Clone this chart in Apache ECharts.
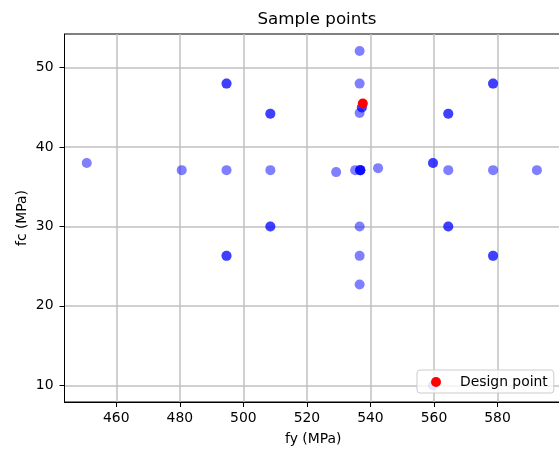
<!DOCTYPE html>
<html>
<head>
<meta charset="utf-8">
<script src="https://cdn.jsdelivr.net/npm/echarts@6/dist/echarts.min.js"></script>
<style>html,body{margin:0;padding:0;background:#fff;}#c{width:559px;height:453px;}</style>
</head>
<body>
<div id="c"></div>
<script>
// Sample points (duplicates listed repeatedly; they overlap in the picture)
const sampleFy = [450.7, 480.6, 494.7, 494.7, 494.7, 494.7, 494.7, 508.5, 508.5, 508.5, 508.5, 508.5,
  529.2, 535.2, 536.8, 536.8, 536.8, 536.8, 536.6, 536.6, 536.6, 537.3, 537.3, 536.6, 536.6, 536.6,
  542.4, 559.7, 559.7, 559.7, 564.5, 564.5, 564.5, 564.5, 564.5, 578.6, 578.6, 578.6, 578.6, 578.6, 592.4];
const sampleFc = [38.0, 37.1, 37.1, 48.0, 48.0, 26.3, 26.3, 37.1, 44.2, 44.2, 30.0, 30.0,
  36.85, 37.1, 37.1, 37.1, 37.1, 37.1, 52.1, 48.0, 44.3, 45.0, 45.0, 30.0, 26.3, 22.7,
  37.35, 38.0, 38.0, 10.0, 37.1, 44.2, 44.2, 30.0, 30.0, 37.1, 48.0, 48.0, 26.3, 26.3, 37.1];
const designFy = [537.6];
const designFc = [45.5];
const xTicks = [460, 480, 500, 520, 540, 560, 580];
const yTicks = [10, 20, 30, 40, 50];

const font = 'DejaVu Sans';
const fs = 13.9;
const chart = echarts.init(document.getElementById('c'), null, {renderer: 'canvas'});
const samples = sampleFy.map((v, i) => [v, sampleFc[i]]);
const design = designFy.map((v, i) => [v, designFc[i]]);

chart.setOption({
  animation: false,
  backgroundColor: '#ffffff',
  title: {
    text: 'Sample points', left: 312, top: 6, textAlign: 'center',
    textStyle: {fontFamily: font, fontSize: 16.7, fontWeight: 'normal', color: '#000'}
  },
  grid: {left: 64.5, right: -3, top: 34, bottom: 51, show: true, borderColor: '#000', borderWidth: 1,
    backgroundColor: 'transparent', outerBoundsMode: 'none', containLabel: false},
  legend: {
    data: ['Design point'], left: 417, top: 370,
    orient: 'vertical',
    padding: [5, 6, 4, 14],
    itemWidth: 10, itemHeight: 10,
    backgroundColor: 'rgba(255,255,255,0.8)',
    borderColor: '#cccccc', borderWidth: 1, borderRadius: 3,
    textStyle: {fontFamily: font, fontSize: fs, color: '#000', padding: [0, 0, 0, 14]}
  },
  xAxis: {
    type: 'value', min: 443.7, max: 600.3,
    name: 'fy (MPa)', nameLocation: 'middle', nameGap: 30, nameMoveOverlap: false,
    nameTextStyle: {fontFamily: font, fontSize: fs, color: '#000'},
    axisLine: {show: true, lineStyle: {color: '#000', width: 1}},
    axisTick: {show: true, length: 5, lineStyle: {color: '#000'}, customValues: xTicks},
    axisLabel: {fontFamily: font, fontSize: fs, color: '#000', margin: 9, customValues: xTicks},
    splitLine: {show: true, lineStyle: {color: '#c0c0c0', width: 1.5}}
  },
  yAxis: {
    type: 'value', min: 7.89, max: 54.25,
    name: 'fc (MPa)', nameLocation: 'middle', nameGap: 35, nameMoveOverlap: false,
    nameTextStyle: {fontFamily: font, fontSize: fs, color: '#000'},
    axisLine: {show: true, lineStyle: {color: '#000', width: 1}},
    axisTick: {show: true, length: 5, lineStyle: {color: '#000'}, customValues: yTicks},
    axisLabel: {fontFamily: font, fontSize: fs, color: '#000', margin: 11, customValues: yTicks},
    splitLine: {show: true, lineStyle: {color: '#c0c0c0', width: 1.5}}
  },
  series: [
    {
      name: 'Samples', type: 'scatter', data: samples, symbolSize: 10,
      itemStyle: {color: '#0000ff', opacity: 0.5}
    },
    {
      name: 'Design point', type: 'scatter', data: design, symbolSize: 10,
      itemStyle: {color: '#ff0000', opacity: 1}
    }
  ]
});
</script>
</body>
</html>
